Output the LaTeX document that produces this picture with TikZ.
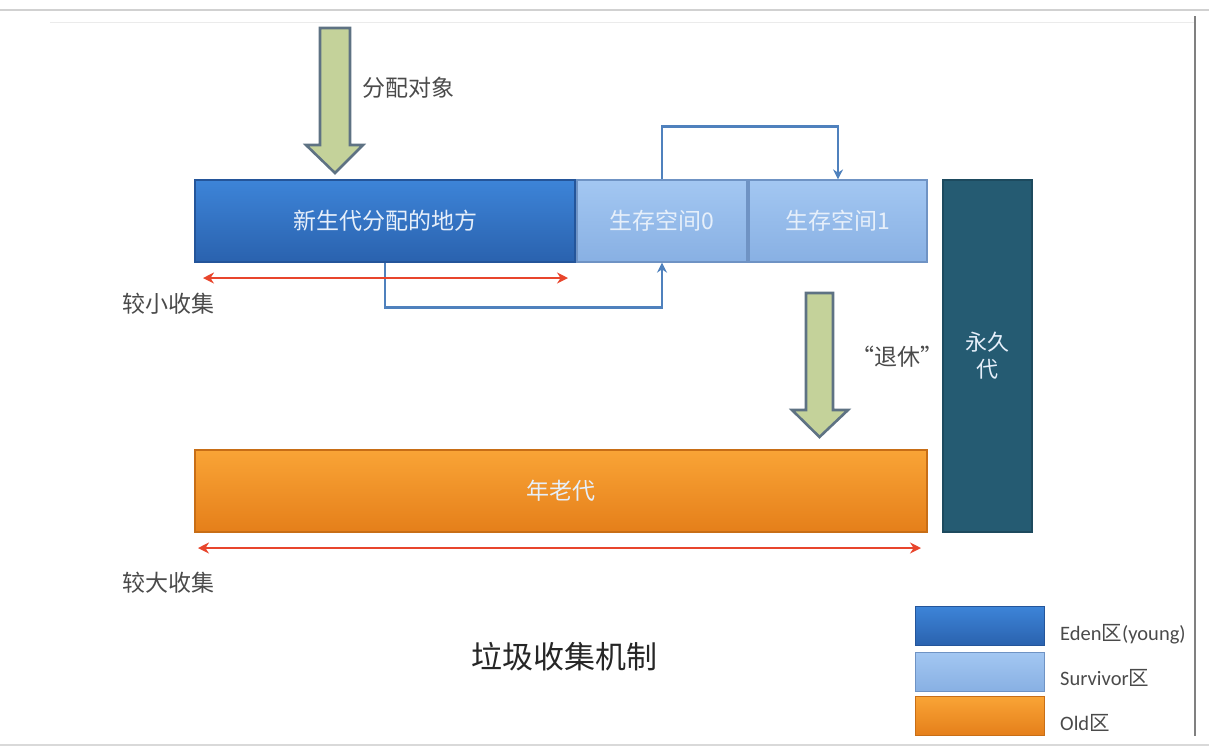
\documentclass[tikz,border=0pt]{standalone}
\usepackage{fontspec}
\setmainfont{Carlito}
\newfontfamily\cjk{Noto Sans CJK SC}
\usetikzlibrary{arrows.meta}
\definecolor{edenT}{HTML}{3D84D8}
\definecolor{edenB}{HTML}{2A62AE}
\definecolor{edenD}{HTML}{24559A}
\definecolor{survT}{HTML}{A3C7F2}
\definecolor{survB}{HTML}{88B0E3}
\definecolor{survD}{HTML}{6F93C4}
\definecolor{oldT}{HTML}{F9A436}
\definecolor{oldB}{HTML}{E57F1A}
\definecolor{oldD}{HTML}{C86E16}
\definecolor{perm}{HTML}{255B72}
\definecolor{permD}{HTML}{1D4A5E}
\definecolor{gfill}{HTML}{C4D29A}
\definecolor{gdraw}{HTML}{5E7283}
\definecolor{conn}{HTML}{4F81BD}
\definecolor{redc}{HTML}{E8452C}
\definecolor{txt}{HTML}{4A4A4A}
\definecolor{boxtxt}{HTML}{E6EFFA}
\tikzset{
  box/.style={draw, line width=1.2pt, inner sep=0pt, minimum height=82pt, text=boxtxt,
    font=\cjk\fontsize{23}{27}\selectfont},
  edenbox/.style={box, top color=edenT, bottom color=edenB, draw=edenD},
  survbox/.style={box, top color=survT, bottom color=survB, draw=survD},
  oldbox/.style={box, top color=oldT, bottom color=oldB, draw=oldD},
  permbox/.style={box, fill=perm, draw=permD, align=center, font=\cjk\fontsize{22}{27}\selectfont},
  blockarrow/.style={fill=gfill, draw=gdraw, line width=2.6pt, line join=miter},
  flow/.style={draw=conn, line width=2.4pt, -{Stealth[length=10pt,width=10pt]}},
  span/.style={draw=redc, line width=2.8pt, {Stealth[length=11pt,width=11pt]}-{Stealth[length=11pt,width=11pt]}},
  lbl/.style={text=txt, font=\cjk\fontsize{23}{27}\selectfont, inner sep=0pt},
  legbox/.style={draw, line width=1pt, inner sep=0pt, minimum width=129pt, minimum height=39pt},
  legtxt/.style={text=txt, font=\fontsize{20.5}{24}\selectfont, inner sep=0pt, anchor=west}
}
\begin{document}
\begin{tikzpicture}[x=1pt,y=-1pt]
\useasboundingbox (0,0) rectangle (1209,748);
% screenshot frame
\draw[black!18, line width=2pt] (0,10) -- (1209,10);
\draw[black!8, line width=1pt] (50,22) -- (1195,22);
\draw[black!50, line width=1.5pt] (1195,16) -- (1195,736);
\draw[black!15, line width=2pt] (0,745) -- (1209,745);

% main boxes
\node[edenbox, minimum width=380pt] (eden) at (385,221) {新生代分配的地方};
\node[survbox, minimum width=170pt] (s0) at (662,221) {生存空间0};
\node[survbox, minimum width=178pt] (s1) at (838,221) {生存空间1};
\node[permbox, minimum width=89pt, minimum height=352pt] (perm) at (987.5,356) {永久\\代};
\node[oldbox, minimum width=732pt] (old) at (561,491) {年老代};

% block arrows
\draw[blockarrow] (320,28) -- (350,28) -- (350,145) -- (363,145) -- (335,173) -- (306,145) -- (320,145) -- cycle;
\draw[blockarrow] (806,293) -- (833,293) -- (833,410) -- (848,410) -- (819.5,437) -- (792,410) -- (806,410) -- cycle;

% labels
\node[lbl] (alloc) at (408,88) {分配对象};
\node[lbl] (retire) at (897,357) {“退休”};
\node[lbl] (minor) at (168,304) {较小收集};
\node[lbl] (major) at (168,583) {较大收集};
\node[text=black!85, font=\cjk\fontsize{31}{35}\selectfont, inner sep=0pt] (title) at (564,657) {垃圾收集机制};

% blue flow connectors
\draw[flow] (s0.north) -- ++(0,-53) -| (s1.north);
\draw[flow] (eden.south) -- ++(0,45) -| (s0.south);

% red span arrows
\coordinate (m1) at (203,278);
\coordinate (m2) at (568,278);
\draw[span] (m1) -- (m2);
\coordinate (M1) at (198,548);
\coordinate (M2) at (921,548);
\draw[span] (M1) -- (M2);

% legend
\node[legbox, top color=edenT, bottom color=edenB, draw=edenD] (lg1) at (980,626) {};
\node[legbox, top color=survT, bottom color=survB, draw=survD] (lg2) at (980,671.5) {};
\node[legbox, top color=oldT, bottom color=oldB, draw=oldD] (lg3) at (980,716) {};
\node[legtxt] (lt1) at (1060,634) {Eden{\cjk 区}(young)};
\node[legtxt] (lt2) at (1060,678) {Survivor{\cjk 区}};
\node[legtxt] (lt3) at (1060,723) {Old{\cjk 区}};
\end{tikzpicture}
\end{document}
